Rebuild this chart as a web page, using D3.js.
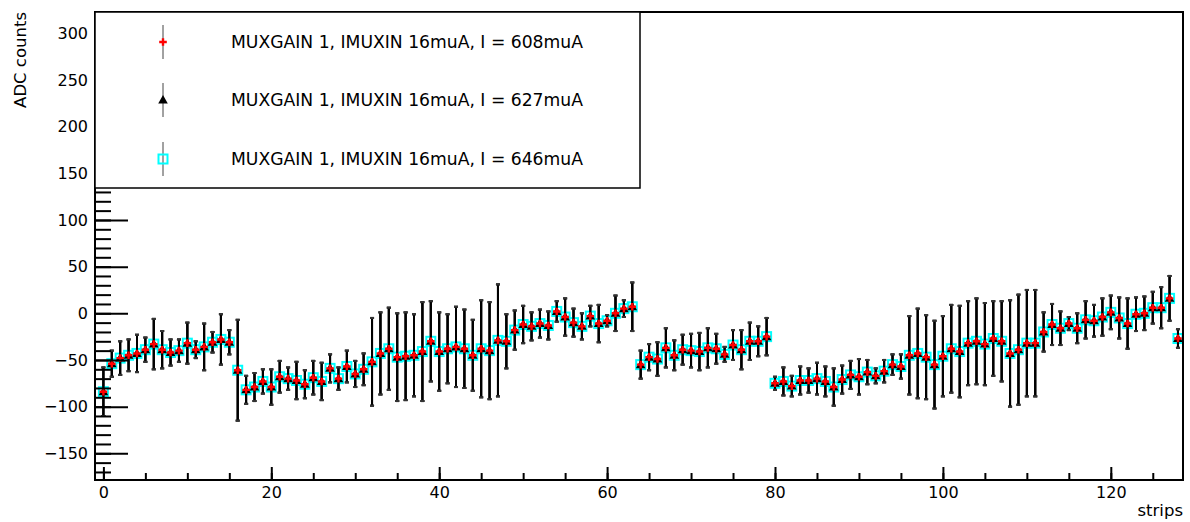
<!DOCTYPE html>
<html lang="en">
<head>
    <meta charset="utf-8">
    <title>ADC counts vs strips</title>
    <style>
        body { margin: 0; background: #fff; }
        text { font-family: "DejaVu Sans", "Liberation Sans", Arial, sans-serif; }
    </style>
</head>
<body>

<div id="chart"></div>

<script src="https://d3js.org/d3.v7.min.js"></script>

<script type="text/javascript">

    // strip numbers 0..128
    var strips = d3.range(0, 129);

    // ADC mean per strip
    var adc608 = [-84, -54, -48, -45, -43, -39, -33, -39, -42, -40, -32, -39, -36, -31, -28, -31,
        -61, -82, -79, -73, -79, -68, -70, -72, -76, -69, -73, -59, -70, -57, -65, -60,
        -52, -43, -38, -47, -46, -45, -41, -30, -41, -38, -36, -38, -45, -38, -40, -29,
        -30, -18, -12, -14, -11, -13, 2, -4, -10, -14, -3, -11, -8, 0, 5, 7,
        -55, -47, -49, -37, -45, -39, -40, -41, -37, -38, -44, -34, -39, -30, -30, -25,
        -75, -73, -78, -72, -72, -70, -73, -79, -71, -66, -68, -63, -67, -62, -55, -57,
        -45, -43, -47, -55, -46, -38, -41, -32, -30, -33, -27, -30, -43, -39, -32, -32,
        -20, -12, -16, -11, -16, -7, -8, -4, 1, -5, -11, -1, 0, 6, 6, 16,
        -27];
    var adc627 = adc608.slice();
    var adc646 = adc608.slice();

    // error per strip
    var err608 = [26, 14, 18, 17, 20, 13, 27, 20, 14, 12, 22, 9, 25, 11, 27, 13,
        54, 15, 15, 13, 19, 17, 12, 20, 15, 18, 20, 15, 12, 17, 14, 17,
        47, 44, 44, 47, 47, 44, 53, 43, 42, 37, 43, 42, 38, 52, 52, 60,
        29, 21, 20, 15, 15, 15, 11, 20, 15, 14, 11, 20, 6, 19, 9, 26,
        15, 14, 18, 21, 16, 16, 18, 20, 21, 16, 8, 16, 21, 20, 16, 20,
        7, 15, 11, 15, 13, 17, 16, 20, 15, 15, 19, 13, 8, 12, 11, 13,
        42, 48, 45, 47, 43, 47, 49, 45, 46, 44, 40, 43, 57, 59, 57, 57,
        21, 22, 18, 7, 16, 20, 17, 20, 18, 22, 27, 18, 18, 17, 22, 24,
        10];
    var err627 = err608.slice();
    var err646 = err608.slice();

    var seriesNames = ["MUXGAIN 1, IMUXIN 16muA, I = 608muA",
        "MUXGAIN 1, IMUXIN 16muA, I = 627muA",
        "MUXGAIN 1, IMUXIN 16muA, I = 646muA"];

    var xMajorTicks = [0, 20, 40, 60, 80, 100, 120];
    var yMajorTicks = [-150, -100, -50, 0, 50, 100, 150, 200, 250, 300];

    var width = 1190, height = 522;
    var margin = {left: 95, right: 7, top: 12, bottom: 42};

    var svg = d3.select("#chart")
            .append("svg")
            .attr("width", width)
            .attr("height", height);

    var x = d3.scaleLinear().domain([-1, 128.6]).range([margin.left, width - margin.right]);
    var y = d3.scaleLinear().domain([-178.6, 322.8]).range([height - margin.bottom, margin.top]);

    var plotBottom = height - margin.bottom;

    // markers per series, drawn in this order (cyan underneath, red on top)
    var series = [
        {name: seriesNames[2], vals: adc646, errs: err646, marker: "square", color: "#00ffff", legendRow: 2},
        {name: seriesNames[1], vals: adc627, errs: err627, marker: "triangle", color: "#000000", legendRow: 1},
        {name: seriesNames[0], vals: adc608, errs: err608, marker: "plus", color: "#ff0000", legendRow: 0}
    ];

    function drawMarker(g, type, color) {
        if (type === "square") {
            g.append("rect").attr("x", -4.5).attr("y", -4.5).attr("width", 9).attr("height", 9)
                    .style("fill", "none").style("stroke", color).style("stroke-width", 2);
        } else if (type === "triangle") {
            g.append("path").attr("d", "M0,-5L4.8,3.5L-4.8,3.5Z").style("fill", color);
        } else {
            g.append("path").attr("d", "M-3.8,0H3.8M0,-3.8V3.8")
                    .style("stroke", color).style("stroke-width", 2.4);
        }
    }

    var plot = svg.append("g");

    series.forEach(function (s) {
        var pts = strips.map(function (d, i) {
            return {x: d, v: s.vals[i], e: s.errs[i]};
        });

        var bars = plot.append("g").selectAll("g")
                .data(pts)
                .enter().append("g");

        bars.append("line")
                .attr("x1", function (d) { return x(d.x); })
                .attr("x2", function (d) { return x(d.x); })
                .attr("y1", function (d) { return Math.min(plotBottom, y(d.v - d.e)); })
                .attr("y2", function (d) { return y(d.v + d.e); })
                .style("stroke", "#000").style("stroke-width", 2);

        [1, -1].forEach(function (sign) {
            bars.append("line")
                    .attr("x1", function (d) { return x(d.x) - 2; })
                    .attr("x2", function (d) { return x(d.x) + 2; })
                    .attr("y1", function (d) { return y(d.v + sign * d.e); })
                    .attr("y2", function (d) { return y(d.v + sign * d.e); })
                    .style("stroke", "#333").style("stroke-width", 2);
        });

        plot.append("g").selectAll("g")
                .data(pts)
                .enter().append("g")
                .attr("transform", function (d) {
                    return "translate(" + x(d.x) + "," + y(d.v) + ")";
                })
                .each(function () {
                    drawMarker(d3.select(this), s.marker, s.color);
                });
    });

    // axes, ROOT style ticks pointing inwards (minor and major in separate groups)
    svg.append("g").attr("transform", "translate(0," + plotBottom + ")")
            .call(d3.axisBottom(x).tickValues(d3.range(0, 126, 5)).tickSize(-7).tickFormat(""));
    svg.append("g").attr("transform", "translate(0," + plotBottom + ")")
            .call(d3.axisBottom(x).tickValues(xMajorTicks).tickSize(-13).tickPadding(7));

    svg.append("g").attr("transform", "translate(" + margin.left + ",0)")
            .call(d3.axisLeft(y).tickValues(d3.range(-170, 321, 10)).tickSize(-16).tickFormat(""));
    svg.append("g").attr("transform", "translate(" + margin.left + ",0)")
            .call(d3.axisLeft(y).tickValues(yMajorTicks).tickSize(-33).tickPadding(7)
                    .tickFormat(function (d) { return d < 0 ? "\u2212" + Math.abs(d) : d; }));

    svg.selectAll(".domain").remove();
    svg.selectAll(".tick line").style("stroke", "#000").style("stroke-width", 2);
    svg.selectAll(".tick text").style("font-size", "16px").style("fill", "#000")
            .style("font-family", "'DejaVu Sans', sans-serif");

    // frame
    svg.append("rect")
            .attr("x", margin.left).attr("y", margin.top)
            .attr("width", width - margin.left - margin.right)
            .attr("height", plotBottom - margin.top)
            .style("fill", "none").style("stroke", "#000").style("stroke-width", 2);

    // axis titles
    svg.append("text")
            .attr("x", width - margin.right).attr("y", 516)
            .attr("text-anchor", "end")
            .style("font-size", "16.5px")
            .text("strips");

    svg.append("text")
            .attr("transform", "translate(26," + margin.top + ") rotate(-90)")
            .attr("text-anchor", "end")
            .style("font-size", "16.5px")
            .text("ADC counts");

    // legend
    var legend = svg.append("g");
    legend.append("rect")
            .attr("x", margin.left).attr("y", margin.top)
            .attr("width", 545).attr("height", 176)
            .style("fill", "#fff").style("stroke", "#000").style("stroke-width", 1.5);

    var rowY = [42, 100, 159];
    series.forEach(function (s) {
        var cy = rowY[s.legendRow];
        var g = legend.append("g").attr("transform", "translate(163," + cy + ")");
        g.append("line").attr("x1", 0).attr("x2", 0).attr("y1", -17).attr("y2", 17)
                .style("stroke", "#444").style("stroke-width", 1);
        drawMarker(g, s.marker, s.color);
        legend.append("text")
                .attr("x", 231).attr("y", cy + 6)
                .style("font-size", "17.2px")
                .text(s.name);
    });

</script>
</body>
</html>
